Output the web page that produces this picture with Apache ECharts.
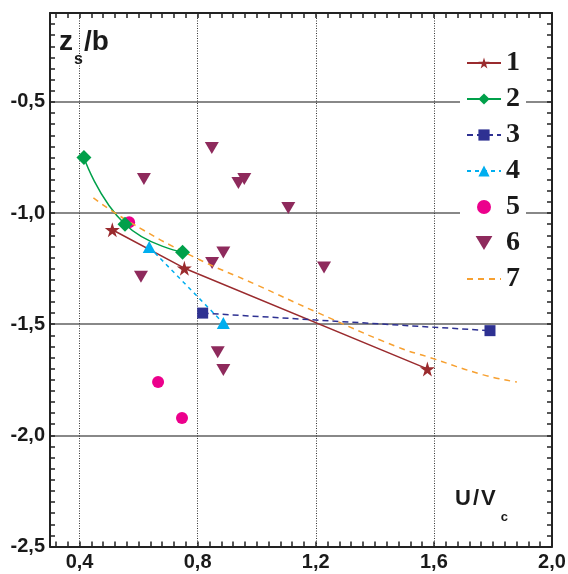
<!DOCTYPE html>
<html>
<head>
<meta charset="utf-8">
<script src="https://cdn.jsdelivr.net/npm/echarts@6/dist/echarts.min.js"></script>
<style>
  html, body { margin: 0; padding: 0; background: #fff; }
  #chart { width: 568px; height: 574px; }
</style>
</head>
<body>
<div id="chart"></div>
<script>
// tick labels and grid positions
const xLabels = [0.4, 0.8, 1.2, 1.6, 2.0];
const yLabels = [-2.5, -2.0, -1.5, -1.0, -0.5];
const xGrid = [0.4, 0.8, 1.2, 1.6];
const yGrid = [-2.0, -1.5, -1.0, -0.5];
const names = ['1', '2', '3', '4', '5', '6', '7'];

// series values [U/Vc, zs/b]
const s1 = [[0.511, -1.075], [0.755, -1.248], [1.578, -1.701]];
const s2 = [[0.415, -0.750], [0.554, -1.050], [0.749, -1.176]];
const s3 = [[0.817, -1.450], [1.790, -1.529]];
const s4 = [[0.636, -1.153], [0.887, -1.495]];
const s5 = [[0.568, -1.041], [0.666, -1.760], [0.747, -1.922]];
const s6 = [
    [0.848, -0.707], [0.618, -0.847], [0.938, -0.865], [0.958, -0.847],
    [0.608, -1.286], [0.887, -1.177], [0.849, -1.225], [1.107, -0.977],
    [1.228, -1.245], [0.868, -1.626], [0.887, -1.706]
];
const s7 = [
    [0.447, -0.932], [0.568, -1.039], [0.785, -1.196], [1.000, -1.323],
    [1.198, -1.443], [1.474, -1.601], [1.587, -1.650], [1.768, -1.728],
    [1.881, -1.760]
];

// small ticks: every 0.04 on x, every 0.05 on y
const xTicks = [];
for (let i = 8; i <= 50; i++) xTicks.push(+(i * 0.04).toFixed(2));
const yTicks = [];
for (let i = -50; i <= -2; i++) yTicks.push(+(i * 0.05).toFixed(2));

const star = 'path://M50,0 L61,35 L98,35 L68,57 L79,91 L50,70 L21,91 L32,57 L2,35 L39,35 Z';
const downTri = 'path://M0,0 L12,0 L6,10 Z';
const fmt = v => v.toFixed(1).replace('.', ',');
const axisColor = '#222';
const sans = 'Arial, Liberation Sans';

function frameAxis(pos, min, max, ticks, labels) {
    return {
        type: 'value', position: pos, min: min, max: max,
        axisLine: { show: true, onZero: false, lineStyle: { color: axisColor, width: 2 } },
        axisTick: { show: true, inside: true, length: 5, customValues: ticks,
            lineStyle: { color: axisColor, width: 1.5 } },
        axisLabel: labels ? {
            show: true, customValues: labels, formatter: fmt,
            fontFamily: sans, fontWeight: 'bold', fontSize: 20,
            color: '#1a1a1a', margin: pos === 'bottom' ? 6 : 5
        } : { show: false },
        splitLine: { show: false }
    };
}

function gridAxis(pos, min, max, vals, style) {
    return {
        type: 'value', position: pos, min: min, max: max,
        axisLine: { show: false },
        axisTick: { show: false, customValues: vals },
        axisLabel: { show: false },
        splitLine: { show: true, lineStyle: style }
    };
}

const chart = echarts.init(document.getElementById('chart'));
const option = {
    animation: false,
    backgroundColor: '#fff',
    grid: { left: 50, top: 13, right: 16, bottom: 27.5, containLabel: false, outerBoundsMode: 'none' },
    title: [
        {
            text: '{m|z}{s|s}{m|/b}', left: 59, top: 28, padding: 0,
            textStyle: { rich: {
                m: { fontFamily: sans, fontWeight: 'bold', fontSize: 28, lineHeight: 28, color: '#1a1a1a', verticalAlign: 'top' },
                s: { fontFamily: sans, fontWeight: 'bold', fontSize: 16, lineHeight: 15, color: '#1a1a1a', verticalAlign: 'top', padding: [24, 1, 0, 1] }
            } }
        },
        {
            text: '{m|U}{g|/}{m|V}{s|c}', left: 455, top: 488, padding: 0,
            textStyle: { rich: {
                m: { fontFamily: sans, fontWeight: 'bold', fontSize: 22, lineHeight: 22, color: '#1a1a1a', verticalAlign: 'top' },
                g: { fontFamily: sans, fontWeight: 'bold', fontSize: 22, lineHeight: 22, color: '#1a1a1a', verticalAlign: 'top', padding: [0, 2, 0, 2] },
                s: { fontFamily: sans, fontWeight: 'bold', fontSize: 13, lineHeight: 12, color: '#1a1a1a', verticalAlign: 'top', padding: [23, 0, 0, 5] }
            } }
        }
    ],
    legend: {
        orient: 'vertical', left: 460, top: 47,
        padding: [2, 6, 4, 6], backgroundColor: '#fff',
        itemWidth: 34, itemHeight: 14, itemGap: 8,
        textStyle: { fontFamily: 'Liberation Serif', fontWeight: 'bold', fontSize: 28, lineHeight: 28, color: '#1a1a1a' },
        data: names.map(n => n === '7' ? { name: n, itemStyle: { opacity: 0 } } : n)
    },
    xAxis: [
        frameAxis('bottom', 0.3, 2.0, xTicks, xLabels),
        frameAxis('top', 0.3, 2.0, xTicks, null),
        gridAxis('bottom', 0.3, 2.0, xGrid, { color: '#333', width: 1, type: [1, 1.5] })
    ],
    yAxis: [
        frameAxis('left', -2.5, -0.1, yTicks, yLabels),
        frameAxis('right', -2.5, -0.1, yTicks, null),
        gridAxis('left', -2.5, -0.1, yGrid, { color: '#888', width: 1.8 })
    ],
    series: [
        {
            name: '1', type: 'line', data: s1, symbol: star, symbolSize: 15,
            itemStyle: { color: '#9a2b2e' }, lineStyle: { color: '#9a2b2e', width: 1.5 }
        },
        {
            name: '2', type: 'line', data: s2, smooth: 0.5, symbol: 'diamond', symbolSize: 15,
            itemStyle: { color: '#00a04a' }, lineStyle: { color: '#00a04a', width: 1.5 }
        },
        {
            name: '3', type: 'line', data: s3, symbol: 'rect', symbolSize: 11,
            itemStyle: { color: '#2e3192' }, lineStyle: { color: '#2e3192', width: 1.5, type: [6, 4] }
        },
        {
            name: '4', type: 'line', data: s4, symbol: 'triangle', symbolSize: [13, 12],
            itemStyle: { color: '#00aeef' }, lineStyle: { color: '#00aeef', width: 1.5, type: [4, 4] }
        },
        {
            name: '5', type: 'scatter', data: s5, symbol: 'circle', symbolSize: 12,
            itemStyle: { color: '#ec008c', opacity: 1 }
        },
        {
            name: '6', type: 'scatter', data: s6, symbol: downTri, symbolSize: [14, 12],
            itemStyle: { color: '#8e2a5c', opacity: 1 }
        },
        {
            name: '7', type: 'line', data: s7, smooth: true, symbol: 'none',
            itemStyle: { color: '#f7a030' }, lineStyle: { color: '#f7a030', width: 1.5, type: [6, 5] }
        }
    ]
};
chart.setOption(option);
</script>
</body>
</html>
